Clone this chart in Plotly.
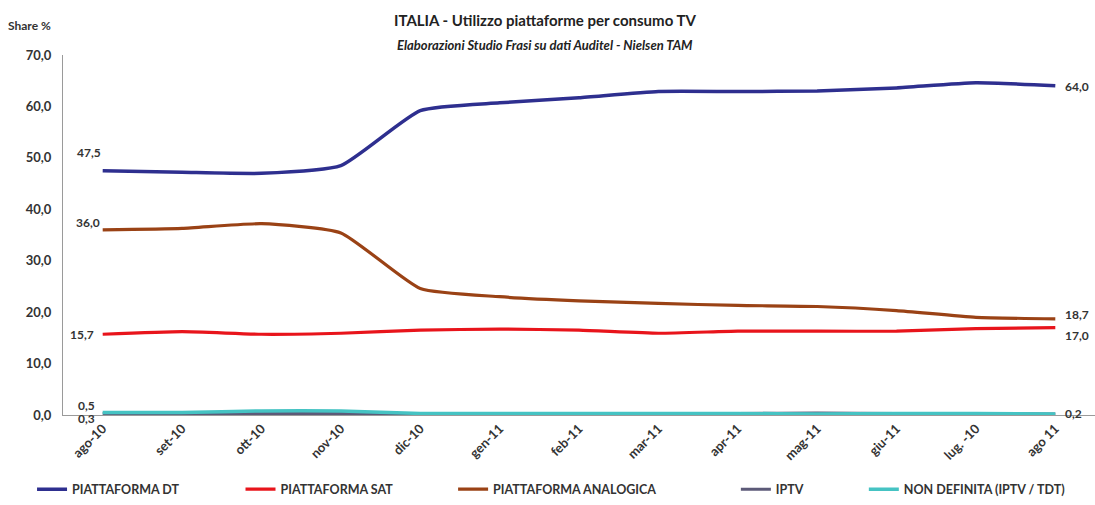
import plotly.graph_objects as go

months = ["ago-10", "set-10", "ott-10", "nov-10", "dic-10", "gen-11", "feb-11",
          "mar-11", "apr-11", "mag-11", "giu-11", "lug. -10", "ago 11"]
dt = [47.5, 47.2, 47.0, 48.5, 59.2, 60.7, 61.7, 62.9, 62.9, 63.0, 63.6, 64.6, 64.0]
sat = [15.7, 16.2, 15.7, 15.9, 16.5, 16.7, 16.5, 15.9, 16.3, 16.3, 16.3, 16.8, 17.0]
analog = [36.0, 36.3, 37.2, 35.4, 24.6, 23.0, 22.2, 21.7, 21.3, 21.1, 20.3, 19.0, 18.7]
iptv = [0.3, 0.3, 0.3, 0.3, 0.3, 0.3, 0.3, 0.3, 0.3, 0.4, 0.3, 0.3, 0.2]
nondef = [0.5, 0.5, 0.8, 0.8, 0.3, 0.3, 0.3, 0.3, 0.3, 0.2, 0.3, 0.3, 0.2]

names = ["PIATTAFORMA DT", "PIATTAFORMA SAT", "PIATTAFORMA ANALOGICA", "IPTV",
         "NON DEFINITA (IPTV / TDT)"]
series = [dt, sat, analog, iptv, nondef]
colors = ["#2E2F8F", "#E8141B", "#9A4215", "#5C5A78", "#45C3C3"]
widths = [3.5, 3.2, 3.2, 3, 3.5]
legend_x = [-0.03, 0.172, 0.378, 0.652, 0.776]

FONT = "Lato"
TXT = "#333333"

fig = go.Figure()
for i, (nm, ys, c, w) in enumerate(zip(names, series, colors, widths)):
    lg = "legend" if i == 0 else f"legend{i+1}"
    fig.add_trace(go.Scatter(
        x=months, y=ys, name=nm, mode="lines",
        line=dict(color=c, width=w, shape="spline", smoothing=0.5),
        legend=lg, hoverinfo="skip"))

legends = {}
for i, lx in enumerate(legend_x):
    key = "legend" if i == 0 else f"legend{i+1}"
    legends[key] = dict(x=lx, y=-0.207, xanchor="left", yanchor="middle",
                        orientation="h", bgcolor="rgba(0,0,0,0)",
                        font=dict(family=FONT, size=12.5, color=TXT, weight="bold"),
                        itemwidth=30, tracegroupgap=0)

def lab(xi, yi, text, xs, ys, xa="center"):
    return dict(x=months[xi], y=yi, xref="x", yref="y", text=text, showarrow=False,
                xshift=xs, yshift=ys, xanchor=xa,
                font=dict(family=FONT, size=12, color=TXT, weight="bold"))

annotations = [
    lab(0, dt[0], "47,5", -14, 18),
    lab(0, analog[0], "36,0", -15, 7),
    lab(0, sat[0], "15,7", -7, 0, "right"),
    lab(0, nondef[0], "0,5", -16, 7),
    lab(0, iptv[0], "0,3", -16, -5),
    lab(12, dt[-1], "64,0", 8, -1, "left"),
    lab(12, analog[-1], "18,7", 8, 4, "left"),
    lab(12, sat[-1], "17,0", 8, -8, "left"),
    lab(12, iptv[-1], "0,2", 8, 0, "left"),
    dict(x=-0.055, y=1.083, xref="paper", yref="paper", xanchor="left",
         yanchor="middle", text="Share %", showarrow=False,
         font=dict(family=FONT, size=12, color=TXT, weight="bold")),
    dict(x=0.467, y=1.097, xref="paper", yref="paper", xanchor="center",
         yanchor="middle", text="ITALIA - Utilizzo piattaforme per consumo TV",
         showarrow=False, font=dict(family=FONT, size=15, color="#222222", weight="bold")),
    dict(x=0.467, y=1.028, xref="paper", yref="paper", xanchor="center",
         yanchor="middle", text="<i>Elaborazioni Studio Frasi su dati Auditel - Nielsen TAM</i>",
         showarrow=False, font=dict(family=FONT, size=13, color="#222222", weight="bold")),
]

fig.update_layout(
    width=1095, height=505,
    margin=dict(l=63, r=0, t=55, b=88),
    paper_bgcolor="white", plot_bgcolor="white",
    separators=",.",
    showlegend=True,
    font=dict(family=FONT, color=TXT),
    xaxis=dict(range=[-0.5, 12.5], showgrid=False, zeroline=False,
               showline=True, linecolor="#9a9a9a", linewidth=1,
               tickangle=-45, ticks="",
               tickfont=dict(family=FONT, size=13, color=TXT, weight="bold")),
    yaxis=dict(range=[0, 70], dtick=10, tickformat=".1f", showgrid=False,
               zeroline=False, showline=True, linecolor="#9a9a9a", linewidth=1,
               ticks="", ticklabelstandoff=8,
               tickfont=dict(family=FONT, size=13, color=TXT, weight="bold")),
    annotations=annotations,
    **legends,
)

fig.write_html("out.html")
